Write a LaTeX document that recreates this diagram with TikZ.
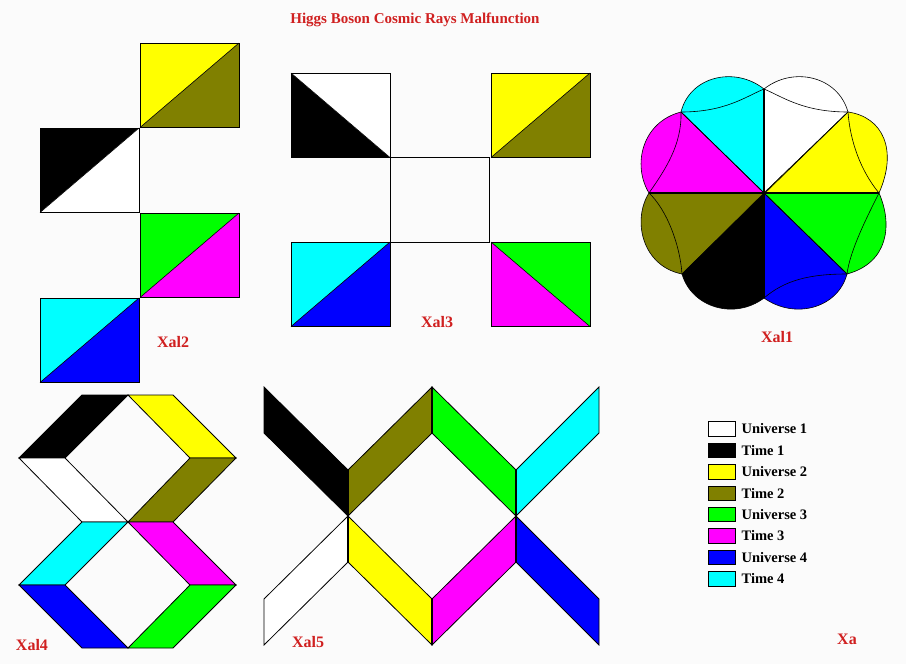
\documentclass[tikz,border=0pt]{standalone}
\usepackage{fontspec}
\setmainfont{Liberation Serif}
\usetikzlibrary{positioning}
\definecolor{olive}{RGB}{128,128,0}
\definecolor{lime}{RGB}{0,255,0}
\definecolor{magenta}{RGB}{255,0,255}
\definecolor{blue}{RGB}{0,0,255}
\definecolor{cyan}{RGB}{0,255,255}
\definecolor{yellow}{RGB}{255,255,0}
\definecolor{labred}{RGB}{208,32,32}
\definecolor{paper}{RGB}{251,251,251}
\tikzset{
  tile/.style={draw=black, line width=0.8pt, line join=miter},
  edge/.style={draw=black, line width=0.6pt},
  spoke/.style={draw=black, line width=1.6pt},
  lbl/.style={text=labred, font=\bfseries\fontsize{16}{16}\selectfont, inner sep=0pt},
  legbox/.style={draw=black, line width=0.8pt, minimum width=27pt, minimum height=14.5pt, inner sep=0pt},
  legtxt/.style={font=\bfseries\fontsize{14.5}{14.5}\selectfont, inner sep=0pt, anchor=west}
}
% rectangle split bottom-left to top-right: #3 upper left, #4 lower right
\newcommand\slashtile[4]{%
  \fill[#3] (#1,#2) -- (#1+99,#2) -- (#1,#2+84.5) -- cycle;
  \fill[#4] (#1+99,#2) -- (#1+99,#2+84.5) -- (#1,#2+84.5) -- cycle;
  \draw[tile] (#1,#2) rectangle (#1+99,#2+84.5);
  \draw[edge] (#1,#2+84.5) -- (#1+99,#2);}
% rectangle split top-left to bottom-right: #3 lower left, #4 upper right
\newcommand\backtile[4]{%
  \fill[#3] (#1,#2) -- (#1+99,#2+84.5) -- (#1,#2+84.5) -- cycle;
  \fill[#4] (#1,#2) -- (#1+99,#2) -- (#1+99,#2+84.5) -- cycle;
  \draw[tile] (#1,#2) rectangle (#1+99,#2+84.5);
  \draw[edge] (#1,#2) -- (#1+99,#2+84.5);}
\begin{document}
\begin{tikzpicture}[x=1pt,y=-1pt]
\fill[paper] (0,0) rectangle (906,664);
\useasboundingbox (0,0) rectangle (906,664);
\node[text=labred, font=\bfseries\fontsize{15}{15}\selectfont] (title) at (415,20) {Higgs Boson Cosmic Rays Malfunction};
% Xal2
\slashtile{140}{43}{yellow}{olive}
\slashtile{40}{128}{black}{white}
\slashtile{140}{213}{lime}{magenta}
\slashtile{40}{298}{cyan}{blue}
\node[lbl] (xal2) at (173,342) {Xal2};
% Xal3
\backtile{291}{73}{black}{white}
\slashtile{491}{73}{yellow}{olive}
\draw[tile] (390,157.5) rectangle (489,242);
\slashtile{291}{242}{cyan}{blue}
\backtile{491}{242}{magenta}{lime}
\node[lbl] (xal3) at (437,322) {Xal3};
% Xal1
\coordinate (c) at (764,193);
\coordinate (t) at (764,89);   \coordinate (ur) at (848,112);
\coordinate (r) at (879,193);  \coordinate (lr) at (847,274);
\coordinate (b) at (764,298);  \coordinate (ll) at (682,274);
\coordinate (l) at (649,193);  \coordinate (ul) at (681,112);
\filldraw[cyan, edge] (c) -- (ul) .. controls (690,76) and (735,66) .. (t) -- cycle;
\filldraw[white, edge] (c) -- (t) .. controls (793,66) and (838,76) .. (ur) -- cycle;
\filldraw[yellow, edge] (c) -- (ur) .. controls (883,117) and (898,150) .. (r) -- cycle;
\filldraw[lime, edge] (c) -- (r) .. controls (893,225) and (888,263) .. (lr) -- cycle;
\filldraw[blue, edge] (c) -- (lr) .. controls (838,308) and (795,320) .. (b) -- cycle;
\filldraw[black, edge] (c) -- (b) .. controls (735,320) and (692,308) .. (ll) -- cycle;
\filldraw[olive, edge] (c) -- (ll) .. controls (642,266) and (632,220) .. (l) -- cycle;
\filldraw[magenta, edge] (c) -- (l) .. controls (632,165) and (642,122) .. (ul) -- cycle;
\draw[edge] (ul) .. controls (725,112) and (745,97) .. (t)
  .. controls (783,97) and (803,112) .. (ur)
  .. controls (850,140) and (860,170) .. (r)
  .. controls (868,215) and (850,250) .. (lr)
  .. controls (810,274) and (785,280) .. (b)
  .. controls (743,280) and (718,274) .. (ll)
  .. controls (680,245) and (667,210) .. (l)
  .. controls (665,170) and (682,145) .. (ul);
\draw[edge] (ul) -- (lr) (ur) -- (ll);
\draw[spoke] (t) -- (b) (l) -- (r);
\node[lbl] (xal1) at (777,337) {Xal1};
% Xal4
\filldraw[black, tile] (19,458) -- (82,395) -- (128,395) -- (65,458) -- cycle;
\filldraw[yellow, tile] (128,395) -- (173,395) -- (236,458) -- (190,458) -- cycle;
\filldraw[olive, tile] (190,458) -- (236,458) -- (173,522) -- (128,522) -- cycle;
\filldraw[white, tile] (19,458) -- (65,458) -- (128,522) -- (82,522) -- cycle;
\filldraw[cyan, tile] (82,522) -- (128,522) -- (65,585) -- (19,585) -- cycle;
\filldraw[magenta, tile] (128,522) -- (173,522) -- (236,585) -- (190,585) -- cycle;
\filldraw[blue, tile] (19,585) -- (65,585) -- (128,648) -- (82,648) -- cycle;
\filldraw[lime, tile] (190,585) -- (236,585) -- (173,648) -- (128,648) -- cycle;
\node[lbl] (xal4) at (32,645) {Xal4};
% Xal5
\filldraw[black, tile] (264,387) -- (348,470) -- (348,516) -- (264,433) -- cycle;
\filldraw[olive, tile] (348,470) -- (432,387) -- (432,433) -- (348,516) -- cycle;
\filldraw[lime, tile] (432,387) -- (516,470) -- (516,516) -- (432,433) -- cycle;
\filldraw[cyan, tile] (516,470) -- (599,387) -- (599,433) -- (516,516) -- cycle;
\filldraw[white, tile] (264,599) -- (348,516) -- (348,562) -- (264,645) -- cycle;
\filldraw[yellow, tile] (348,516) -- (432,599) -- (432,645) -- (348,562) -- cycle;
\filldraw[magenta, tile] (432,599) -- (516,516) -- (516,562) -- (432,645) -- cycle;
\filldraw[blue, tile] (516,516) -- (599,599) -- (599,645) -- (516,562) -- cycle;
\draw[line width=1.4pt] (348,470) -- (348,562) (516,470) -- (516,562)
  (432,387) -- (432,433) (432,599) -- (432,645);
\node[lbl] (xal5) at (308,642) {Xal5};
% legend
\foreach \col/\txt [count=\i] in {white/Universe 1, black/Time 1, yellow/Universe 2,
    olive/Time 2, lime/Universe 3, magenta/Time 3, blue/Universe 4, cyan/Time 4}
{
  \node[legbox, fill=\col] (key\i) at (721.5,{429+21.4*(\i-1)}) {};
  \node[legtxt, right=6pt of key\i] (txt\i) {\txt};
}
\node[lbl] (xa) at (847,639) {Xa};
\end{tikzpicture}
\end{document}
